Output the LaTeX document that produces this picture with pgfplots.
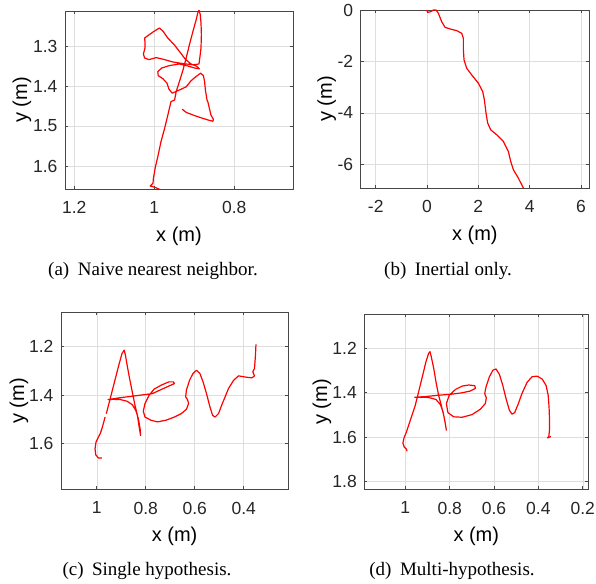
\documentclass[border=0pt]{standalone}
\usepackage{fontspec}
\setmainfont{Liberation Sans}
\newfontfamily\capfont{Liberation Serif}
\usepackage{pgfplots}
\pgfplotsset{compat=1.18}

\definecolor{trk}{RGB}{255,0,0}

\pgfplotsset{
  mat/.style={
    scale only axis,
    grid=major,
    major grid style={black!13, line width=0.5pt},
    axis line style={black!72, line width=0.6pt},
    tick style={black!72, line width=0.6pt},
    tick align=inside, major tick length=3pt,
    tick label style={font=\fontsize{17.5}{20}\selectfont, text=black!85},
    label style={font=\fontsize{20}{24}\selectfont},
    /pgf/number format/assume math mode=true,
    xticklabel style={yshift=-9pt},
    yticklabel style={xshift=-4pt},
    xlabel={x (m)}, ylabel={y (m)},
    xlabel style={at={(axis description cs:0.5,-0.268)}, anchor=center},
    clip=true,
  },
  trace/.style={trk, line width=1.2pt, line join=round, no markers},
}

\begin{document}
\begin{tikzpicture}

% (a) naive nearest neighbour
\begin{axis}[mat, at={(65pt,394pt)}, anchor=south west,
  width=228pt, height=178pt,
  x dir=reverse, y dir=reverse,
  xmin=0.653, xmax=1.223, ymin=1.2125, ymax=1.6575,
  xtick={0.8,1,1.2}, ytick={1.3,1.4,1.5,1.6},
  ylabel style={at={(axis description cs:-0.189,0.5)}, anchor=center}]
\addplot[trace] coordinates {
(0.987,1.658)(0.999,1.653)(1.010,1.650)(1.003,1.643)(1.002,1.631)
(0.997,1.602)(0.991,1.577)(0.983,1.539)(0.974,1.506)(0.966,1.473)
(0.958,1.439)(0.949,1.435)(0.945,1.414)(0.937,1.389)(0.928,1.360)
(0.920,1.330)(0.912,1.297)(0.903,1.263)(0.895,1.234)(0.891,1.217)
(0.888,1.210)(0.885,1.221)(0.883,1.242)(0.882,1.271)(0.883,1.305)
(0.886,1.330)(0.888,1.345)(0.903,1.347)(0.928,1.344)(0.953,1.340)
(0.978,1.333)(0.995,1.329)(1.013,1.334)(1.024,1.330)(1.027,1.320)
(1.023,1.305)(1.023,1.290)(1.024,1.280)(1.003,1.265)(0.987,1.255)
(0.978,1.263)(0.966,1.280)(0.949,1.298)(0.935,1.316)(0.923,1.332)
(0.908,1.345)(0.893,1.351)(0.887,1.357)(0.899,1.355)(0.916,1.350)
(0.937,1.345)(0.962,1.349)(0.981,1.355)(0.991,1.364)(0.990,1.374)
(0.978,1.382)(0.968,1.393)(0.963,1.408)(0.955,1.418)(0.937,1.410)
(0.920,1.402)(0.908,1.387)(0.895,1.376)(0.884,1.368)(0.877,1.374)
(0.874,1.389)(0.872,1.410)(0.868,1.435)(0.866,1.439)(0.862,1.456)
(0.858,1.473)(0.852,1.483)(0.853,1.488)(0.862,1.486)(0.878,1.481)
(0.899,1.474)(0.920,1.466)(0.930,1.458)
};
\end{axis}

% (b) inertial only
\begin{axis}[mat, at={(360.7pt,395pt)}, anchor=south west,
  width=228.3pt, height=178pt,
  xmin=-2.585, xmax=6.312, ymin=-6.92, ymax=0,
  xtick={-2,0,2,4,6}, ytick={-6,-4,-2,0},
  ylabel style={at={(axis description cs:-0.149,0.5)}, anchor=center}]
\addplot[trace] coordinates {
(-0.013,0)(0.026,-0.091)(0.143,-0.065)(0.247,0)(0.351,0)
(0.442,-0.129)(0.571,-0.453)(0.701,-0.673)(0.896,-0.737)(1.156,-0.802)
(1.351,-0.906)(1.416,-1.100)(1.416,-1.552)(1.442,-1.941)(1.545,-2.264)
(1.740,-2.523)(2.000,-2.846)(2.169,-3.169)(2.234,-3.493)(2.299,-4.010)
(2.364,-4.398)(2.481,-4.657)(2.714,-4.851)(2.974,-5.110)(3.169,-5.498)
(3.260,-5.886)(3.364,-6.210)(3.558,-6.533)(3.753,-6.921)
};
\end{axis}

% (c) single hypothesis
\begin{axis}[mat, at={(61pt,93.7pt)}, anchor=south west,
  width=227.3pt, height=177pt,
  x dir=reverse, y dir=reverse,
  xmin=0.218, xmax=1.146, ymin=1.058, ymax=1.788,
  xtick={0.4,0.6,0.8,1}, ytick={1.2,1.4,1.6},
  ylabel style={at={(axis description cs:-0.185,0.5)}, anchor=center}]
\addplot[trace] coordinates {
(0.979,1.659)(0.993,1.659)(1.004,1.646)(1.007,1.621)(1.003,1.593)
(0.993,1.572)(0.986,1.559)(0.979,1.538)(0.972,1.513)(0.966,1.490)
};
\addplot[trace] coordinates {
(0.961,1.476)(0.952,1.441)(0.938,1.386)(0.924,1.331)(0.910,1.276)
(0.897,1.228)(0.888,1.214)(0.883,1.234)(0.876,1.276)(0.866,1.331)
(0.855,1.386)(0.844,1.441)(0.834,1.483)(0.828,1.524)(0.821,1.566)
(0.823,1.538)(0.830,1.497)(0.841,1.462)(0.855,1.439)(0.876,1.425)
(0.903,1.418)(0.931,1.417)(0.954,1.418)(0.910,1.411)(0.855,1.404)
(0.800,1.397)(0.772,1.393)(0.738,1.377)(0.703,1.361)(0.683,1.352)
(0.687,1.345)(0.706,1.345)(0.738,1.359)(0.766,1.375)(0.786,1.400)
(0.803,1.434)(0.810,1.466)(0.803,1.490)(0.779,1.503)(0.752,1.510)
(0.717,1.503)(0.683,1.490)(0.655,1.476)(0.634,1.458)(0.625,1.434)
(0.630,1.417)(0.637,1.407)(0.634,1.379)(0.621,1.338)(0.607,1.310)
(0.593,1.297)(0.579,1.310)(0.566,1.345)(0.552,1.393)(0.538,1.448)
(0.527,1.483)(0.517,1.490)(0.503,1.476)(0.490,1.441)(0.476,1.407)
(0.462,1.372)(0.441,1.338)(0.421,1.320)(0.400,1.324)(0.379,1.327)
(0.366,1.328)(0.356,1.320)(0.363,1.303)(0.356,1.290)(0.352,1.234)
(0.350,1.190)
};
\end{axis}

% (d) multi-hypothesis
\begin{axis}[mat, at={(364.3pt,93.7pt)}, anchor=south west,
  width=224pt, height=175pt,
  x dir=reverse, y dir=reverse,
  xmin=0.175, xmax=1.185, ymin=1.047, ymax=1.834,
  xtick={0.2,0.4,0.6,0.8,1}, ytick={1.2,1.4,1.6,1.8},
  ylabel style={at={(axis description cs:-0.189,0.5)}, anchor=center}]
\addplot[trace] coordinates {
(0.992,1.663)(0.995,1.654)(1.005,1.644)(1.011,1.626)(1.006,1.603)
(0.995,1.576)(0.985,1.546)(0.970,1.501)(0.955,1.456)(0.940,1.395)
(0.925,1.335)(0.907,1.260)(0.895,1.223)(0.889,1.215)(0.883,1.238)
(0.872,1.290)(0.862,1.350)(0.850,1.411)(0.838,1.456)(0.827,1.501)
(0.820,1.538)(0.815,1.568)(0.821,1.531)(0.830,1.486)(0.842,1.453)
(0.862,1.430)(0.895,1.421)(0.925,1.420)(0.958,1.420)(0.910,1.417)
(0.850,1.411)(0.789,1.406)(0.744,1.400)(0.707,1.392)(0.684,1.380)
(0.687,1.368)(0.714,1.365)(0.744,1.370)(0.774,1.385)(0.802,1.411)
(0.815,1.448)(0.808,1.489)(0.782,1.508)(0.744,1.510)(0.699,1.498)
(0.662,1.474)(0.639,1.448)(0.635,1.423)(0.642,1.403)(0.636,1.373)
(0.621,1.328)(0.605,1.298)(0.591,1.293)(0.576,1.317)(0.561,1.365)
(0.546,1.426)(0.531,1.478)(0.519,1.496)(0.507,1.489)(0.492,1.453)
(0.474,1.403)(0.451,1.353)(0.429,1.328)(0.406,1.325)(0.383,1.338)
(0.365,1.368)(0.356,1.411)(0.352,1.463)(0.350,1.516)(0.350,1.568)
(0.353,1.595)(0.359,1.603)(0.344,1.597)
};
\end{axis}

\node[font=\capfont\fontsize{19}{22}\selectfont] at (153pt,312pt) {(a)\hspace{0.45em}Naive nearest neighbor.};
\node[font=\capfont\fontsize{19}{22}\selectfont] at (448pt,312pt) {(b)\hspace{0.45em}Inertial only.};
\node[font=\capfont\fontsize{19}{22}\selectfont] at (147pt,12pt) {(c)\hspace{0.45em}Single hypothesis.};
\node[font=\capfont\fontsize{19}{22}\selectfont] at (452pt,12pt) {(d)\hspace{0.45em}Multi-hypothesis.};

\pgfresetboundingbox
\path[use as bounding box] (0,0) rectangle (596pt,583pt);
\end{tikzpicture}
\end{document}
